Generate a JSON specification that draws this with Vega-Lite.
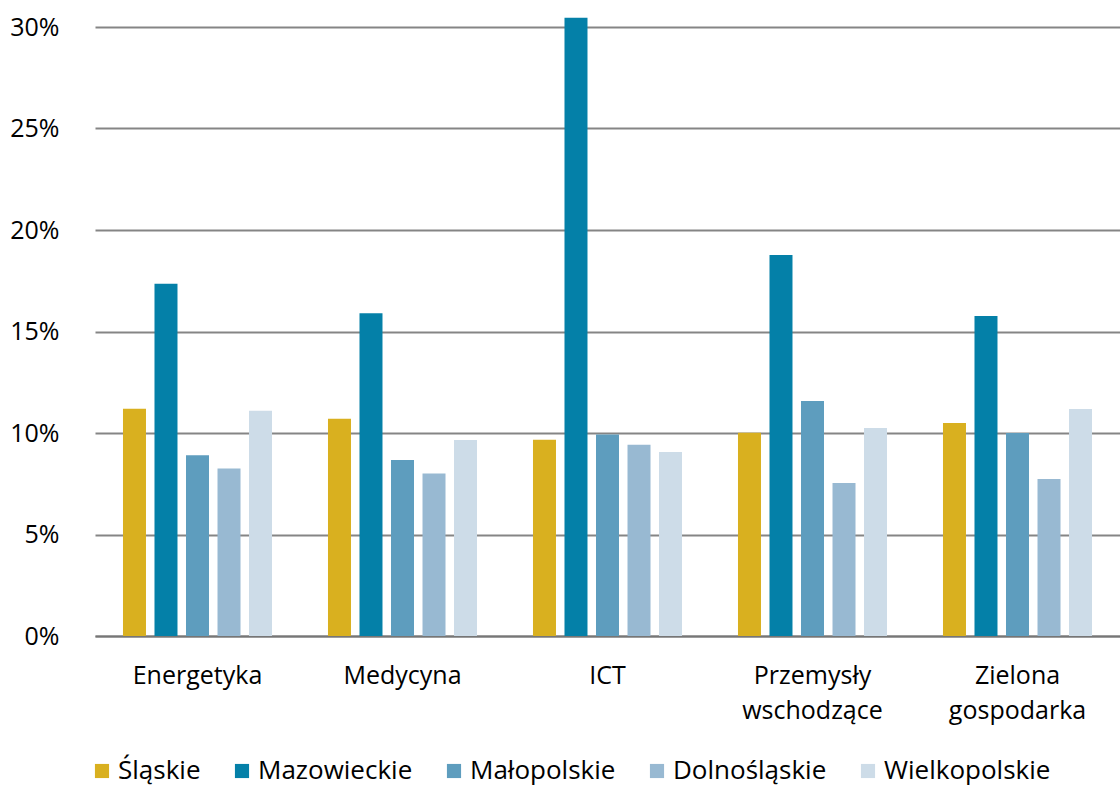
{
  "$schema": "https://vega.github.io/schema/vega-lite/v6.json",
  "width": 1025,
  "height": 609,
  "autosize": {"type": "none"},
  "padding": {"left": 95, "top": 27, "right": 0, "bottom": 149},
  "background": "white",
  "config": {
    "font": "Open Sans",
    "view": {"stroke": null}
  },
  "data": {
    "values": [
      {"sektor": "Energetyka", "region": "Śląskie", "udzial": 11.2},
      {"sektor": "Energetyka", "region": "Mazowieckie", "udzial": 17.35},
      {"sektor": "Energetyka", "region": "Małopolskie", "udzial": 8.9},
      {"sektor": "Energetyka", "region": "Dolnośląskie", "udzial": 8.25},
      {"sektor": "Energetyka", "region": "Wielkopolskie", "udzial": 11.1},
      {"sektor": "Medycyna", "region": "Śląskie", "udzial": 10.7},
      {"sektor": "Medycyna", "region": "Mazowieckie", "udzial": 15.9},
      {"sektor": "Medycyna", "region": "Małopolskie", "udzial": 8.67},
      {"sektor": "Medycyna", "region": "Dolnośląskie", "udzial": 8.0},
      {"sektor": "Medycyna", "region": "Wielkopolskie", "udzial": 9.66},
      {"sektor": "ICT", "region": "Śląskie", "udzial": 9.67},
      {"sektor": "ICT", "region": "Mazowieckie", "udzial": 30.45},
      {"sektor": "ICT", "region": "Małopolskie", "udzial": 9.92},
      {"sektor": "ICT", "region": "Dolnośląskie", "udzial": 9.42},
      {"sektor": "ICT", "region": "Wielkopolskie", "udzial": 9.07},
      {"sektor": "Przemysły wschodzące", "region": "Śląskie", "udzial": 10.01},
      {"sektor": "Przemysły wschodzące", "region": "Mazowieckie", "udzial": 18.77},
      {"sektor": "Przemysły wschodzące", "region": "Małopolskie", "udzial": 11.58},
      {"sektor": "Przemysły wschodzące", "region": "Dolnośląskie", "udzial": 7.54},
      {"sektor": "Przemysły wschodzące", "region": "Wielkopolskie", "udzial": 10.25},
      {"sektor": "Zielona gospodarka", "region": "Śląskie", "udzial": 10.49},
      {"sektor": "Zielona gospodarka", "region": "Mazowieckie", "udzial": 15.76},
      {"sektor": "Zielona gospodarka", "region": "Małopolskie", "udzial": 10.0},
      {"sektor": "Zielona gospodarka", "region": "Dolnośląskie", "udzial": 7.73},
      {"sektor": "Zielona gospodarka", "region": "Wielkopolskie", "udzial": 11.18}
    ]
  },
  "mark": {"type": "bar"},
  "encoding": {
    "x": {
      "field": "sektor",
      "type": "nominal",
      "sort": ["Energetyka", "Medycyna", "ICT", "Przemysły wschodzące", "Zielona gospodarka"],
      "scale": {"paddingInner": 0.273, "paddingOuter": 0.1365},
      "axis": {
        "title": null,
        "labelAngle": 0,
        "ticks": false,
        "domainColor": "#767676",
        "domainWidth": 2,
        "labelFontSize": 25,
        "labelColor": "#000000",
        "labelPadding": 27,
        "labelLineHeight": 35,
        "labelBaseline": "top",
        "labelExpr": "split(datum.label, ' ')"
      }
    },
    "xOffset": {
      "field": "region",
      "type": "nominal",
      "sort": ["Śląskie", "Mazowieckie", "Małopolskie", "Dolnośląskie", "Wielkopolskie"],
      "scale": {"paddingInner": 0.27, "paddingOuter": 0}
    },
    "y": {
      "field": "udzial",
      "type": "quantitative",
      "scale": {"domain": [0, 30], "nice": false},
      "axis": {
        "title": null,
        "values": [0, 5, 10, 15, 20, 25, 30],
        "labelExpr": "datum.value + '%'",
        "domain": false,
        "ticks": false,
        "labelPadding": 36,
        "labelFontSize": 25,
        "labelColor": "#000000",
        "gridColor": "#858585",
        "gridWidth": 2
      }
    },
    "color": {
      "field": "region",
      "type": "nominal",
      "sort": ["Śląskie", "Mazowieckie", "Małopolskie", "Dolnośląskie", "Wielkopolskie"],
      "scale": {
        "domain": ["Śląskie", "Mazowieckie", "Małopolskie", "Dolnośląskie", "Wielkopolskie"],
        "range": ["#D9B01F", "#0480A8", "#5E9DBE", "#98B9D2", "#CDDCE8"]
      },
      "legend": {
        "title": null,
        "orient": "none",
        "direction": "horizontal",
        "legendX": -6,
        "legendY": 731,
        "symbolType": "square",
        "symbolSize": 200,
        "symbolStrokeWidth": 0,
        "labelFontSize": 26,
        "labelLimit": 400,
        "labelColor": "#000000",
        "labelOffset": 3,
        "columnPadding": 28
      }
    }
  }
}
